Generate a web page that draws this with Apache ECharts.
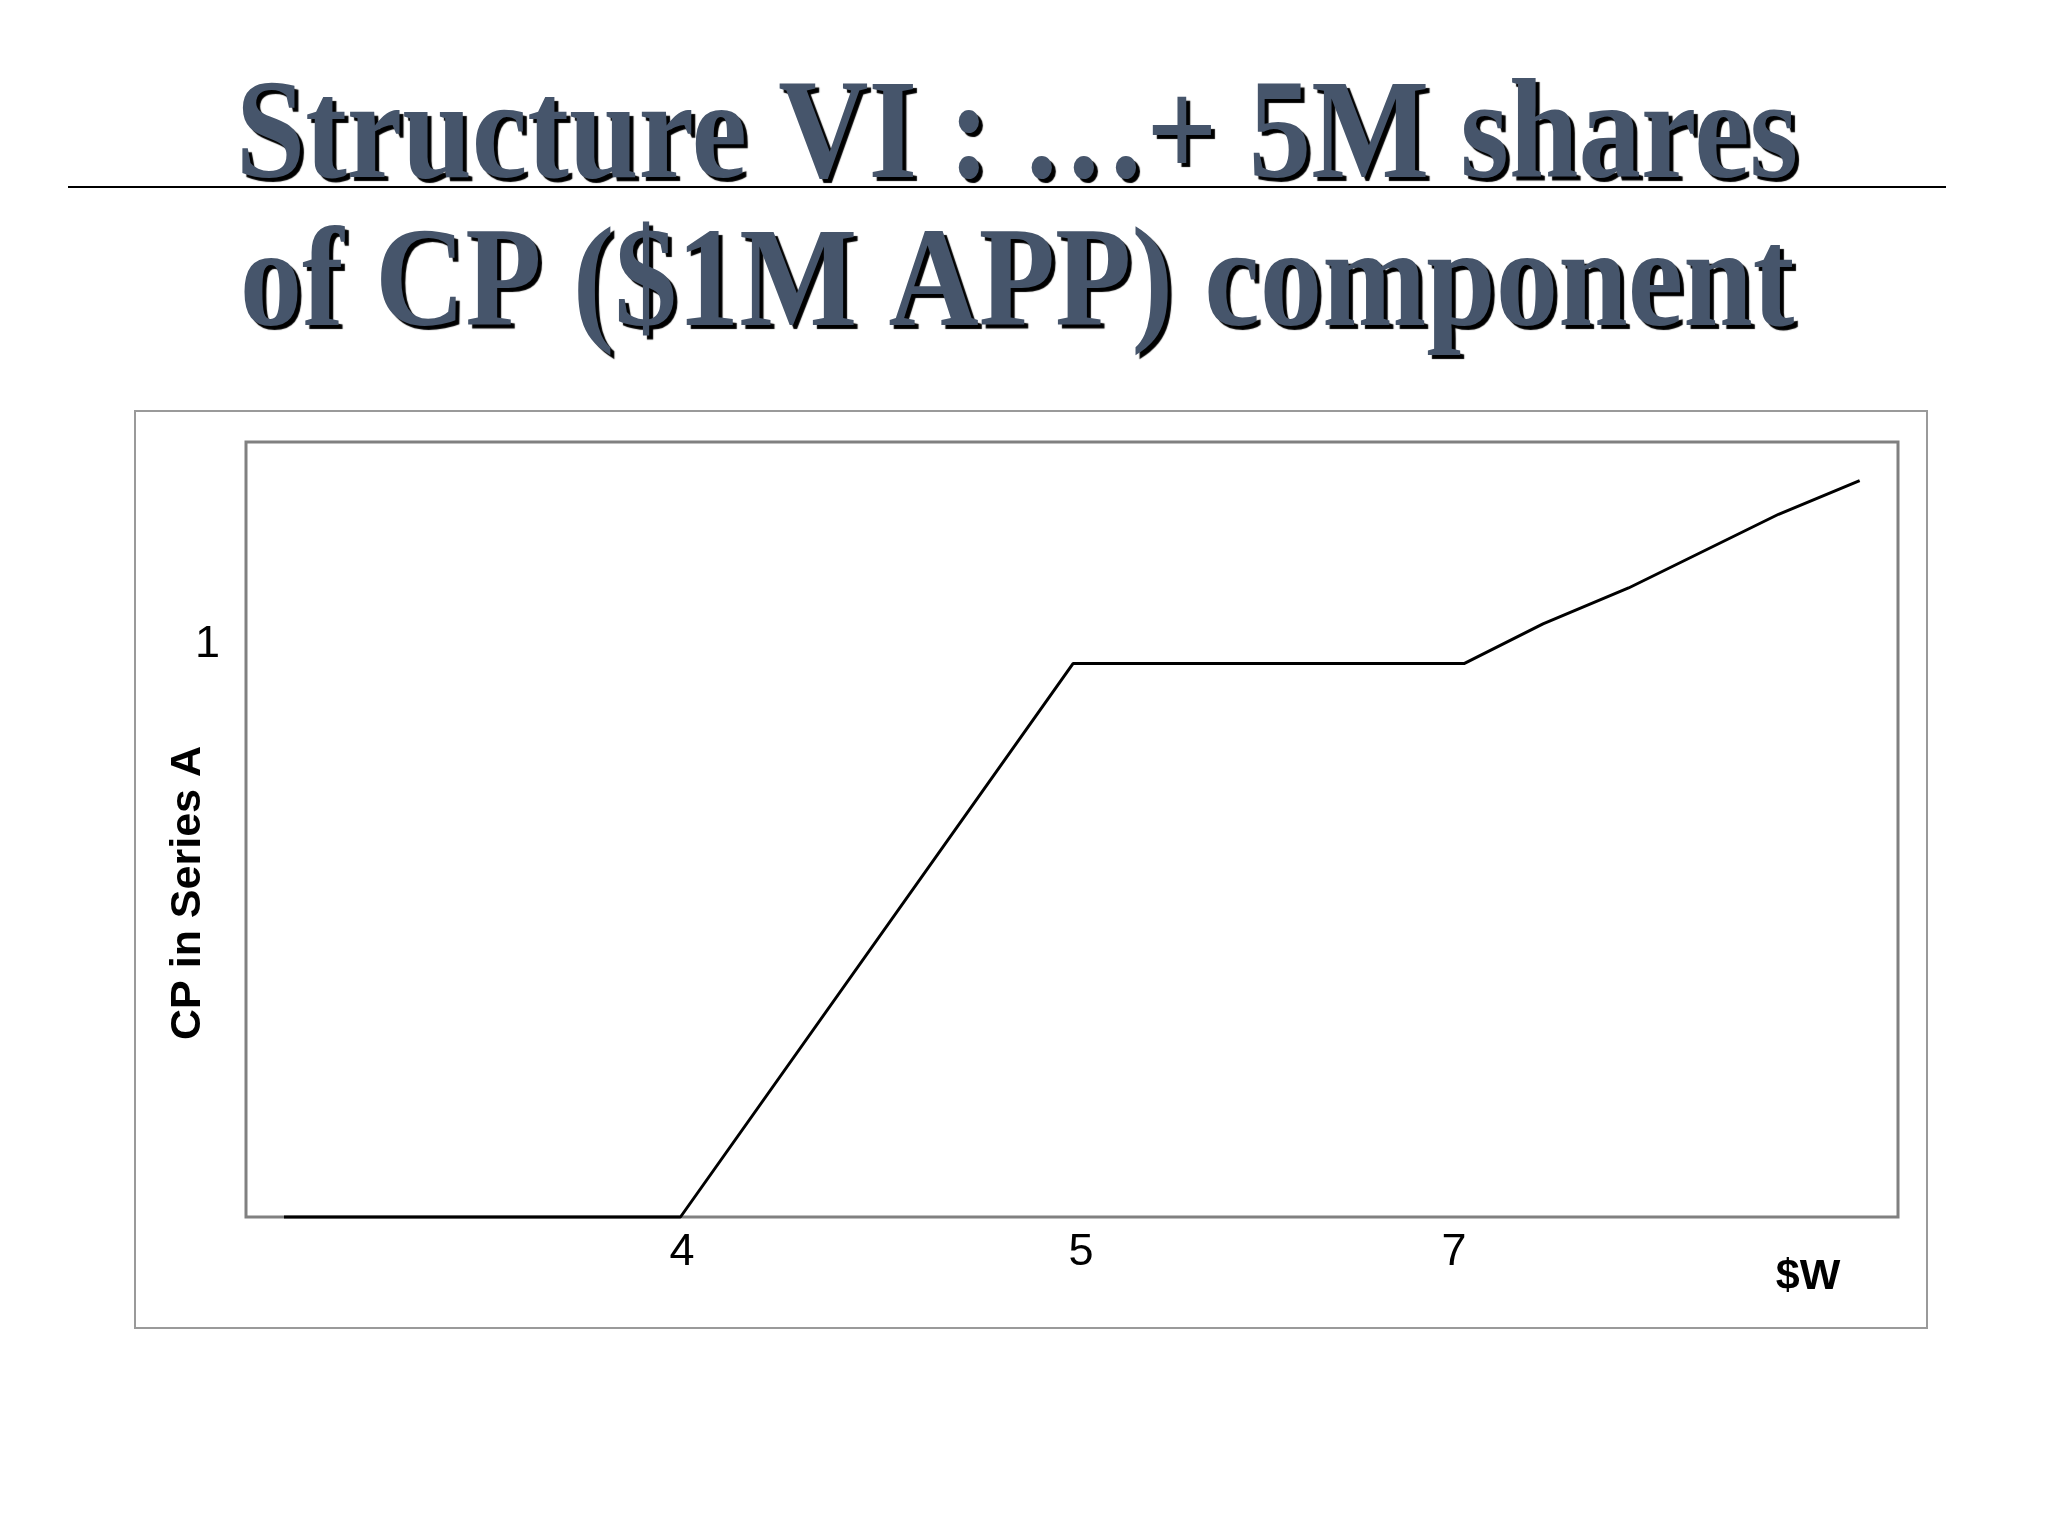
<!DOCTYPE html>
<html>
<head>
<meta charset="utf-8">
<script src="https://cdn.jsdelivr.net/npm/echarts@6/dist/echarts.min.js"></script>
<style>
  html, body { margin: 0; padding: 0; background: #ffffff; }
  #chart { width: 2048px; height: 1536px; }
</style>
</head>
<body>
<div id="chart"></div>
<script>
// ---- data (x in relative units of the $W axis, y with the flat level = 1) ----
const titleLines = ['Structure VI : \u2026+ 5M shares', 'of CP ($1M APP) component'];
const xName = '$W';
const yName = 'CP in Series A';
const xValues = [2.30, 26.30, 50.06, 73.73, 78.51, 83.69, 92.77, 97.68];
const yValues = [0, 0, 1, 1, 1.0716, 1.1366, 1.2698, 1.3305];
const xTickValues = [26.39, 50.54, 73.12];
const xTickLabels = ['4', '5', '7'];
const yTickValues = [1.0337];
const yTickLabels = ['1'];

const seriesData = xValues.map((x, i) => [x, yValues[i]]);

function nearestLabel(values, labels, v) {
  let best = 0, bd = Infinity;
  values.forEach((t, i) => { const d = Math.abs(t - v); if (d < bd) { bd = d; best = i; } });
  return labels[best];
}

const chart = echarts.init(document.getElementById('chart'), null, { renderer: 'canvas' });

const titleStyle = {
  fontSize: 142,
  fontWeight: 'bold',
  fontFamily: '"Liberation Serif", "Times New Roman", serif',
  fill: '#46556b',
  textAlign: 'center',
  textVerticalAlign: 'middle',
  verticalAlign: 'middle',
  textShadowColor: '#000000',
  textShadowBlur: 1,
  textShadowOffsetX: 4,
  textShadowOffsetY: 4
};

chart.setOption({
  animation: false,
  backgroundColor: '#ffffff',
  grid: {
    left: 246, top: 442, width: 1652, height: 775,
    show: true, borderColor: '#808080', borderWidth: 3,
    backgroundColor: 'transparent'
  },
  xAxis: {
    type: 'value', min: 0, max: 100,
    axisLine: { show: false }, axisTick: { show: false }, splitLine: { show: false },
    axisLabel: {
      customValues: xTickValues,
      formatter: v => nearestLabel(xTickValues, xTickLabels, v),
      fontSize: 45, color: '#000000', margin: 13,
      fontFamily: '"Liberation Sans", Arial, sans-serif'
    }
  },
  yAxis: {
    type: 'value', min: 0, max: 1.4004,
    axisLine: { show: false }, axisTick: { show: false }, splitLine: { show: false },
    axisLabel: {
      customValues: yTickValues,
      formatter: v => nearestLabel(yTickValues, yTickLabels, v),
      fontSize: 45, color: '#000000', margin: 26,
      fontFamily: '"Liberation Sans", Arial, sans-serif'
    }
  },
  series: [{
    type: 'line',
    data: seriesData,
    symbol: 'none',
    clip: false,
    lineStyle: { color: '#000000', width: 3 },
    z: 5
  }],
  graphic: [
    {
      type: 'rect', z: -1, silent: true,
      shape: { x: 135, y: 411, width: 1792, height: 917 },
      style: { fill: 'none', stroke: '#9a9a9a', lineWidth: 2 }
    },
    {
      type: 'line', silent: true,
      shape: { x1: 68, y1: 187, x2: 1946, y2: 187 },
      style: { stroke: '#000000', lineWidth: 2 }
    },
    {
      type: 'text', silent: true, x: 1017, y: 140, scaleX: 0.88,
      style: Object.assign({ text: titleLines[0] }, titleStyle)
    },
    {
      type: 'text', silent: true, x: 1017, y: 288, scaleX: 0.88,
      style: Object.assign({ text: titleLines[1] }, titleStyle)
    },
    {
      type: 'text', silent: true, x: 188.5, y: 893, rotation: Math.PI / 2,
      style: {
        text: yName, fontSize: 43, fontWeight: 'bold',
        fontFamily: '"Liberation Sans", Arial, sans-serif',
        fill: '#000000', textAlign: 'center', textVerticalAlign: 'middle', verticalAlign: 'middle'
      }
    },
    {
      type: 'text', silent: true, x: 1808, y: 1277,
      style: {
        text: xName, fontSize: 43, fontWeight: 'bold',
        fontFamily: '"Liberation Sans", Arial, sans-serif',
        fill: '#000000', textAlign: 'center', textVerticalAlign: 'middle', verticalAlign: 'middle'
      }
    }
  ]
});
</script>
</body>
</html>
